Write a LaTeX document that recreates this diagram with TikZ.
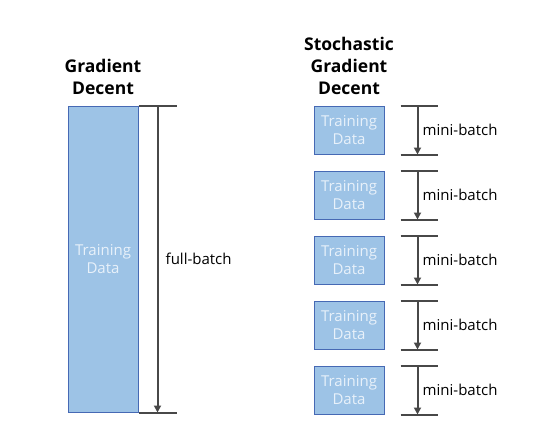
\documentclass[tikz,border=0pt]{standalone}
\usepackage{fontspec}
\setmainfont{Open Sans}
\usetikzlibrary{arrows.meta,positioning}
\definecolor{boxfill}{RGB}{157,195,230}
\definecolor{boxdraw}{RGB}{70,105,180}
\definecolor{boxtext}{RGB}{232,241,250}
\definecolor{linegrey}{RGB}{72,72,72}

\begin{document}
\begin{tikzpicture}[x=1pt, y=-1pt,
    data/.style={draw=boxdraw, line width=1pt, fill=boxfill, text=boxtext,
              minimum width=70pt, align=center, inner sep=0pt,
              font=\fontsize{15}{18}\selectfont},
    title/.style={align=center, font=\bfseries\fontsize{17.5}{22}\selectfont},
    tick/.style={draw=linegrey, line width=2pt},
    batch/.style={-{Triangle[length=7pt,width=7pt]}, draw=linegrey, line width=2pt},
    lbl/.style={anchor=west, inner sep=0pt, font=\fontsize{15}{18}\selectfont}]
\useasboundingbox (0,0) rectangle (538,444);
% full-batch gradient descent
\node[title] (gdtitle) at (103,77) {Gradient\\Decent};
\node[data, minimum height=306pt] (full) at (103,259) {Training\\Data};
\draw[tick] (full.north east) -- ++(38,0);
\draw[tick] (full.south east) -- ++(38,0);
\draw[batch] ([xshift=19pt]full.north east) -- ([xshift=19pt]full.south east);
\node[lbl] (fulllbl) at ([xshift=27pt]full.east) {full-batch};
% stochastic gradient descent
\node[title] (sgdtitle) at (349,66) {Stochastic\\Gradient\\Decent};
\foreach \i in {1,...,5}{
  \node[data, minimum height=48pt] (mini\i) at (349,{65*\i+65}) {Training\\Data};
  \draw[tick] ([xshift=16pt]mini\i.north east) -- ++(37,0);
  \draw[tick] ([xshift=16pt]mini\i.south east) -- ++(37,0);
  \draw[batch] ([xshift=33pt]mini\i.north east) -- ([xshift=33pt]mini\i.south east);
  \node[lbl] (minilbl\i) at ([xshift=38pt]mini\i.east) {mini-batch};
}
\end{tikzpicture}
\end{document}
